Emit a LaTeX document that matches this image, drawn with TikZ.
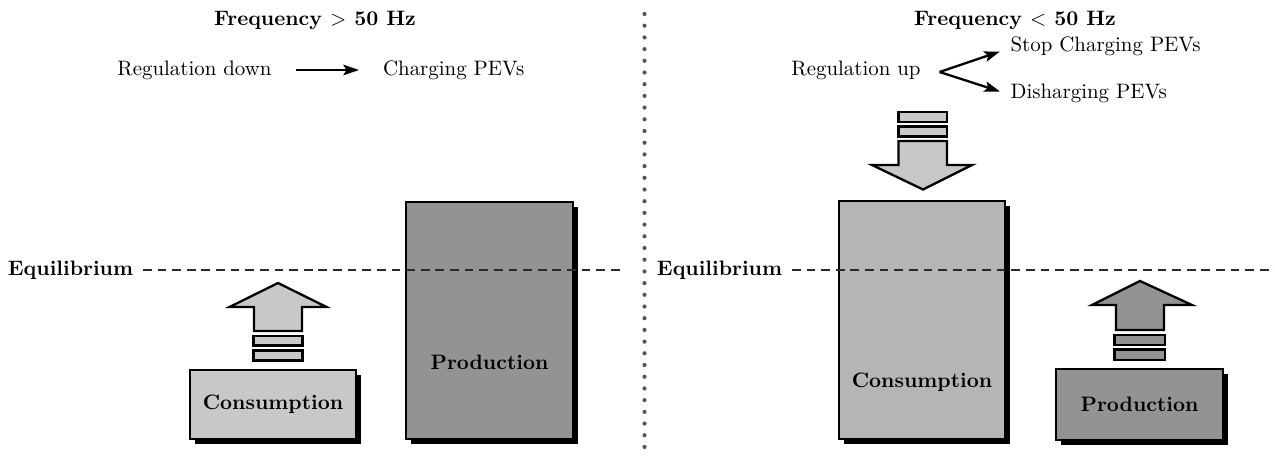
\documentclass[tikz,border=0pt]{standalone}
\usetikzlibrary{shadows,arrows.meta}
\definecolor{lightbox}{HTML}{C8C8C8}
\definecolor{midbox}{HTML}{B5B5B5}
\definecolor{darkbox}{HTML}{939393}
\definecolor{dotgray}{HTML}{555555}
\definecolor{dashgray}{HTML}{2A2A2A}
\begin{document}
\begin{tikzpicture}[x=0.4786pt,y=-0.4786pt,
  box/.style={draw=black, line width=1.1pt, inner sep=0pt, font=\bfseries,
    drop shadow={shadow xshift=2.4pt, shadow yshift=-2.4pt, opacity=1, fill=black}},
  blockarrow/.style={draw=black, line width=1.1pt, line join=miter},
  bar/.style={draw=black, line width=1.1pt},
  plain/.style={inner sep=2pt},
  title/.style={inner sep=2pt, font=\bfseries},
  equil/.style={dashgray, line width=1.1pt, dash pattern=on 4.2pt off 2.8pt},
  flow/.style={-{Stealth[length=7.5pt,width=5pt,inset=1.5pt]}, line width=1.2pt}]
\useasboundingbox (0,0) rectangle (1275,456);

% separator
\coordinate (sepTop) at (644.5,14);
\coordinate (sepBot) at (644.5,456);
\draw[dotgray, line width=2pt, line cap=round, dash pattern=on 0pt off 5.6pt] (sepTop) -- (sepBot);

% ---------- left half ----------
\node[title] (titleL) at (315,20) {Frequency $>$ 50 Hz};
\node[plain] (regdown) at (194.5,70) {Regulation down};
\node[plain] (charging) at (453.7,70) {Charging PEVs};
\draw[flow, shorten <=9.5pt, shorten >=9.3pt] (regdown) -- (charging);

\node[box, fill=darkbox, minimum width=79.9pt, minimum height=113.4pt] (prodL) at (489.5,320.5) {};
\node[title] (prodLtext) at (489.5,362) {Production};
\node[box, fill=lightbox, minimum width=79.4pt, minimum height=33pt] (consL) at (273,404.5) {Consumption};

\draw[bar, fill=lightbox] (253.5,350.5) rectangle (302.5,360.5);
\draw[bar, fill=lightbox] (253.5,336) rectangle (302.5,345.5);
\draw[blockarrow, fill=lightbox] (254,331) -- (254,307) -- (229.5,307) -- (278,283)
  -- (326.5,307) -- (302,307) -- (302,331) -- cycle;

\node[title] (eqL) at (70.5,270) {Equilibrium};
\coordinate (eqLend) at (622,270);
\draw[equil] ([xshift=2.5pt]eqL.east) -- (eqLend);

% ---------- right half ----------
\node[title] (titleR) at (1015,20) {Frequency $<$ 50 Hz};
\node[plain] (regup) at (856,70) {Regulation up};
\coordinate (split) at (939.5,72);
\node[plain, anchor=west] (stopch) at (1006,46) {Stop Charging PEVs};
\node[plain, anchor=west] (disch) at (1006,93) {Disharging PEVs};
\draw[flow, line width=1.1pt] (split) -- (1000,51.5);
\draw[flow, line width=1.1pt] (split) -- (1000,91.5);

\node[box, fill=midbox, minimum width=79.4pt, minimum height=113.9pt] (consR) at (922,320) {};
\node[title] (consRtext) at (922,382) {Consumption};
\node[box, fill=darkbox, minimum width=79.9pt, minimum height=34pt] (prodR) at (1139.5,404.5) {Production};

\draw[bar, fill=lightbox] (898.5,112) rectangle (947,122);
\draw[bar, fill=lightbox] (898.5,126.5) rectangle (947,136.5);
\draw[blockarrow, fill=lightbox] (898.5,141) -- (898.5,165) -- (872,165) -- (923,189.5)
  -- (972,165) -- (947,165) -- (947,141) -- cycle;

\draw[bar, fill=darkbox] (1114.5,349.5) rectangle (1165,360);
\draw[bar, fill=darkbox] (1114.5,335) rectangle (1165,345);
\draw[blockarrow, fill=darkbox] (1116,330) -- (1116,305) -- (1092,305) -- (1140,281)
  -- (1192,305) -- (1164,305) -- (1164,330) -- cycle;

\node[title] (eqR) at (719.5,270) {Equilibrium};
\coordinate (eqRend) at (1275,270);
\draw[equil] ([xshift=2.5pt]eqR.east) -- (eqRend);

\end{tikzpicture}
\end{document}
